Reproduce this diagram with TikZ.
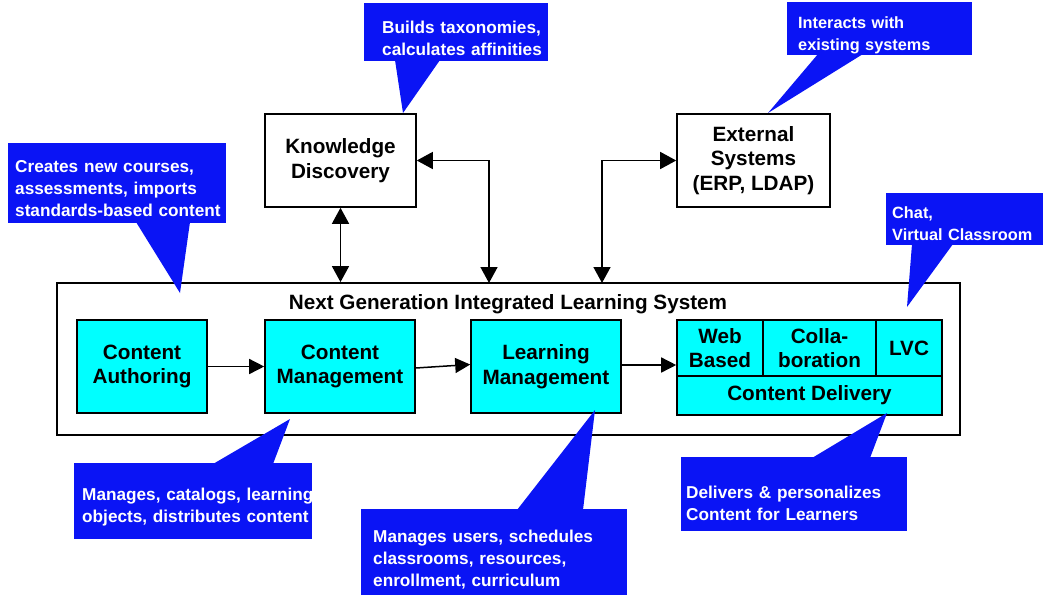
\documentclass[tikz,border=0pt]{standalone}
\usepackage{fontspec}
\setmainfont{Liberation Sans}
\usetikzlibrary{arrows.meta}
\definecolor{cbblue}{HTML}{0A14F5}
\definecolor{cbcyan}{HTML}{00FFFF}
\newcommand\bxfont{\fontsize{20.7}{24.5}\selectfont\bfseries}
\newcommand\clfont{\fontsize{17.2}{22}\selectfont\bfseries}
\newcommand\clsmall{\fontsize{16.3}{22}\selectfont\bfseries}
\begin{document}
\begin{tikzpicture}[x=1pt,y=-1pt,
  wbox/.style={draw=black, line width=1.6pt, fill=white, align=center, font=\bxfont, inner sep=0pt},
  cbox/.style={wbox, fill=cbcyan},
  callout/.style={fill=cbblue},
  ctext/.style={text=white, font=\clfont, text width=250pt, align=left, inner sep=0pt, anchor=base west},
  conn/.style={line width=1.5pt, {Triangle[length=16pt,width=17pt]}-{Triangle[length=16pt,width=17pt]}},
  arr/.style={line width=1.5pt, -{Triangle[length=15pt,width=15pt]}}]
\useasboundingbox (0,0) rectangle (1044,598);

% main system box
\node[draw=black, line width=1.8pt, minimum width=903pt, minimum height=152pt, inner sep=0pt] (sys) at (508.5,359) {};
\node[font=\bxfont, inner sep=0pt, anchor=base] (title) at (508,309) {Next Generation Integrated Learning System};

% top boxes
\node[wbox, minimum width=151pt, minimum height=93pt] (kd) at (340.5,160.5) {Knowledge\\Discovery};
\node[wbox, minimum width=153pt, minimum height=93pt] (ext) at (753.5,160.5) {External\\Systems\\(ERP, LDAP)};

% inner boxes
\node[cbox, minimum width=130pt, minimum height=93pt] (ca) at (142,366.5) {Content\\Authoring};
\node[cbox, minimum width=150pt, minimum height=93pt] (cm) at (340,366.5) {Content\\Management};
\node[cbox, minimum width=150pt, minimum height=93pt] (lm) at (546,366.5) {Learning\\Management};
\node[cbox, minimum width=86pt, minimum height=56pt] (web) at (720,348) {Web\\Based};
\node[cbox, minimum width=113pt, minimum height=56pt] (col) at (819.5,348) {Colla-\\boration};
\node[cbox, minimum width=66pt, minimum height=56pt] (lvc) at (909,348) {LVC};
\node[cbox, minimum width=265pt, minimum height=39pt] (cd) at (809.5,395.5) {Content Delivery};

% connectors
\coordinate (j1) at (489,283);
\coordinate (j2) at (602,283);
\draw[conn] (kd.south) -- (kd.south |- sys.north);
\draw[conn] (kd.east) -| (j1);
\draw[conn] (ext.west) -| (j2);
\draw[arr] (ca.east) -- (cm.west);
\draw[arr] ([yshift=-1.5pt]cm.east) -- ([yshift=2pt]lm.west);
\draw[arr] ([yshift=1.5pt]lm.east) -- ([yshift=1.5pt]lm.east -| web.west);

% callouts
\fill[callout] (8,143) rectangle (226,223);
\fill[callout] (136,222) -- (180,293) -- (190,222) -- cycle;
\node[ctext] (c1) at (15,172) {Creates new courses,\\assessments, imports\\standards-based content};

\fill[callout] (364,3) rectangle (548,61);
\fill[callout] (395,60) -- (403,113) -- (440,60) -- cycle;
\node[ctext] (c2) at (382,33) {Builds taxonomies,\\calculates affinities};

\fill[callout] (787,2) rectangle (972,55);
\fill[callout] (818,54) -- (768,113) -- (863,54) -- cycle;
\node[ctext, font=\clsmall] (c3) at (798,28) {Interacts with\\existing systems};

\fill[callout] (886,193) rectangle (1043,245);
\fill[callout] (912,244) -- (907,307) -- (953,244) -- cycle;
\node[ctext, font=\clsmall] (c4) at (892,218) {Chat,\\Virtual Classroom};

\fill[callout] (74,463) rectangle (312,539);
\fill[callout] (213,464) -- (290,419) -- (273,464) -- cycle;
\node[ctext] (c5) at (82,500) {Manages, catalogs, learning\\objects, distributes content};

\fill[callout] (361,509) rectangle (627,595);
\fill[callout] (517,510) -- (595,410) -- (583,510) -- cycle;
\node[ctext] (c6) at (373,542) {Manages users, schedules\\classrooms, resources,\\enrollment, curriculum};

\fill[callout] (681,457) rectangle (907,531);
\fill[callout] (812,458) -- (887,413) -- (870,458) -- cycle;
\node[ctext] (c7) at (686,498) {Delivers \& personalizes\\Content for Learners};
\end{tikzpicture}
\end{document}
